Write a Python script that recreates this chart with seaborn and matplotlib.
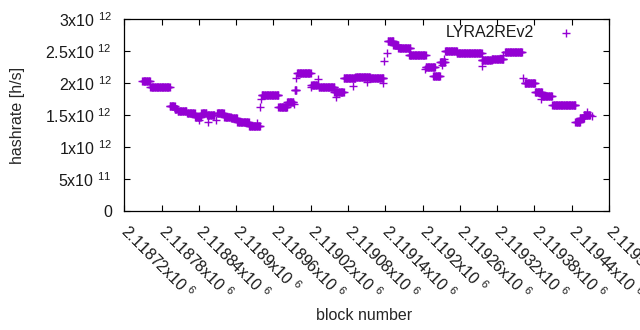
import numpy as np
import pandas as pd
import matplotlib
matplotlib.use("Agg")
import matplotlib.pyplot as plt
import seaborn as sns

# difficulty periods: first block, last block, hashrate (x10^12 h/s)
seg_start = [2118749, 2118762, 2118793, 2118801, 2118806, 2118821, 2118834, 2118844,
             2118853, 2118869, 2118881, 2118892, 2118902, 2118921, 2118941, 2118968,
             2118982, 2118994, 2118998, 2119021, 2119033, 2119058, 2119073, 2119092,
             2119115, 2119144, 2119153, 2119161, 2119178, 2119205, 2119217, 2119228,
             2119236, 2119255, 2119295, 2119311, 2119333, 2119364, 2119381, 2119392,
             2119409, 2119446, 2119453, 2119459]
seg_end = [2118761, 2118793, 2118801, 2118805, 2118820, 2118833, 2118843, 2118852,
           2118865, 2118880, 2118891, 2118901, 2118920, 2118938, 2118968, 2118982,
           2118992, 2118997, 2119020, 2119031, 2119058, 2119073, 2119092, 2119115,
           2119137, 2119153, 2119161, 2119180, 2119205, 2119220, 2119228, 2119236,
           2119255, 2119295, 2119311, 2119330, 2119360, 2119381, 2119392, 2119408,
           2119446, 2119453, 2119459, 2119469]
seg_value = [2.03, 1.935, 1.64, 1.59, 1.56, 1.53, 1.47, 1.53,
             1.50, 1.53, 1.47, 1.45, 1.39, 1.33, 1.81, 1.63,
             1.71, 1.90, 2.155, 1.97, 1.935, 1.87, 2.075, 2.10,
             2.075, 2.655, 2.60, 2.555, 2.44, 2.26, 2.12, 2.33,
             2.50, 2.47, 2.36, 2.375, 2.495, 2.00, 1.86, 1.80,
             1.655, 1.40, 1.46, 1.50]

# single blocks off their period level
odd_block = [2118840, 2118854, 2118867, 2118934, 2118939, 2118940, 2118993, 2118997,
             2119021, 2119031, 2119060, 2119088, 2119110, 2119137, 2119138, 2119142,
             2119204, 2119231, 2119234, 2119295, 2119329, 2119362, 2119391, 2119464,
             2119472]
odd_value = [1.42, 1.40, 1.42, 1.38, 1.63, 1.75, 1.67, 2.08,
             1.935, 2.06, 1.79, 1.955, 2.02, 2.01, 2.35, 2.47,
             2.23, 2.28, 2.38, 2.27, 2.44, 2.075, 1.75, 1.545,
             1.49]

x_ticks = list(range(2118720, 2119501, 60))
y_ticks = [0, 0.5e12, 1e12, 1.5e12, 2e12, 2.5e12, 3e12]

COLOR = "#9400D3"
FS = 11.5

rows = []
for s, e, v in zip(seg_start, seg_end, seg_value):
    for b in range(s, e + 1):
        rows.append((b, v * 1e12))
for b, v in zip(odd_block, odd_value):
    rows.append((b, v * 1e12))
df = pd.DataFrame(rows, columns=["block", "hashrate"])


def sci_label(v):
    # gnuplot style "%g x10^{%T}"
    if v == 0:
        return "0"
    e = int(np.floor(np.log10(v)))
    m = v / 10 ** e
    return f"{m:g}x10 $^{{{e}}}$"


sns.set_style("ticks")
plt.rcParams["font.family"] = ["Liberation Sans", "DejaVu Sans"]
plt.rcParams["mathtext.fontset"] = "custom"
plt.rcParams["mathtext.rm"] = "Liberation Sans"
plt.rcParams["mathtext.it"] = "Liberation Sans"
plt.rcParams["text.color"] = "#1a1a1a"

fig = plt.figure(figsize=(6.4, 3.3), dpi=100)
ax = fig.add_axes([0.1942, 0.3606, 0.9516 - 0.1942, 0.9415 - 0.3606])

sns.scatterplot(data=df, x="block", y="hashrate", marker="+", s=27,
                color=COLOR, linewidth=1.0, ax=ax, label="LYRA2REv2")

ax.set_xlim(2118720, 2119500)
ax.set_ylim(0, 3e12)
ax.set_xticks(x_ticks)
ax.set_xticklabels([sci_label(t) for t in x_ticks], rotation=-45,
                   ha="left", va="center", rotation_mode="anchor", fontsize=FS)
ax.set_yticks(y_ticks)
ax.set_yticklabels([sci_label(t) for t in y_ticks], fontsize=FS)
ax.tick_params(direction="in", length=4, width=0.8, top=True, right=True,
               colors="black", labelcolor="#1a1a1a")
ax.tick_params(axis="y", pad=9)
ax.tick_params(axis="x", pad=12)
for sp in ax.spines.values():
    sp.set_visible(True)
    sp.set_linewidth(0.9)
    sp.set_color("black")

ax.set_xlabel("block number", fontsize=FS)
ax.xaxis.set_label_coords((364 - 124.3) / 484.7, -(315 - 211) / 191.7)
ax.xaxis.label.set_va("center")
ax.set_ylabel("hashrate [h/s]", fontsize=FS)
ax.yaxis.set_label_coords(-(124.3 - 18) / 484.7, 0.5)
ax.yaxis.label.set_va("center")

leg = ax.legend(loc="upper right", bbox_to_anchor=(0.958, 1.02), frameon=False,
                markerfirst=False, fontsize=FS, handletextpad=1.2,
                borderaxespad=0.2, handlelength=1.6)

fig.savefig("out.png", dpi=100)
